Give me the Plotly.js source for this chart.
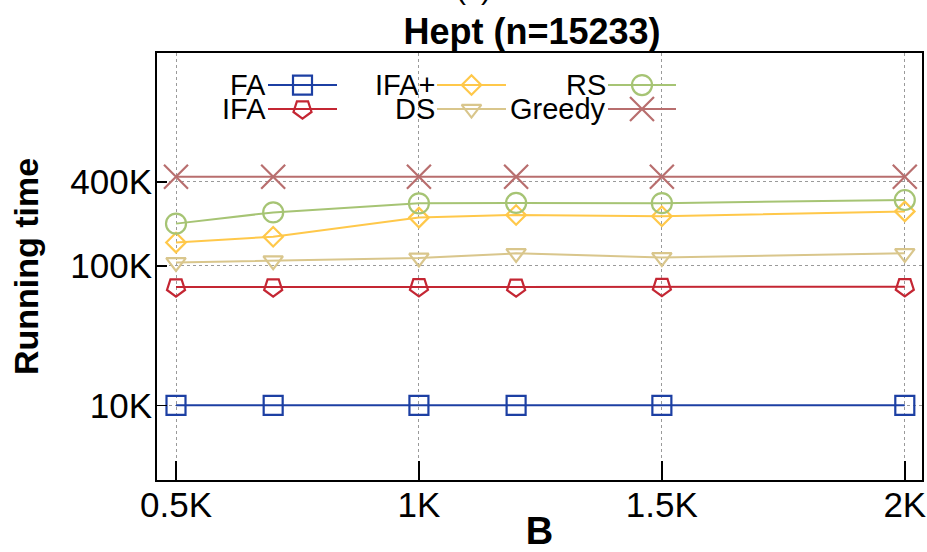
<!DOCTYPE html>
<html>
<head>
<meta charset="utf-8">
<script src="https://cdn.plot.ly/plotly-3.0.1.min.js"></script>
<style>
  html, body { margin: 0; padding: 0; background: #fff; }
  #chart { width: 927px; height: 552px; }
</style>
</head>
<body>
<div id="chart"></div>
<script>
// Budget B (in thousands) and running time of each method
const budgetK = [0.5, 0.7, 1.0, 1.2, 1.5, 2.0];
const tickValsX = [0.5, 1.0, 1.5, 2.0];
const tickTextX = ['0.5K', '1K', '1.5K', '2K'];
const tickValsY = [1e4, 1e5, 4e5];
const tickTextY = ['10K', '100K', '400K'];

const seriesNames = ['FA', 'IFA', 'IFA+', 'DS', 'RS', 'Greedy'];
const faTime      = [10000, 10000, 10000, 10000, 10000, 10000];
const ifaTime     = [70500, 70500, 70700, 70300, 71000, 70800];
const ifaPlusTime = [147000, 162000, 222000, 232000, 227000, 246000];
const dsTime      = [106000, 109000, 114000, 123000, 115000, 123000];
const rsTime      = [201000, 242000, 281000, 283000, 282000, 297000];
const greedyTime  = [436000, 436000, 436000, 436000, 436000, 436000];

const seriesValues = [faTime, ifaTime, ifaPlusTime, dsTime, rsTime, greedyTime];
const seriesColors = ['#1c3fa3', '#c42633', '#ffc84a', '#d9c68c', '#a6c474', '#b86e6e'];
const seriesSymbols = ['square-open', 'pentagon-open', 'diamond-open', 'triangle-down-open', 'circle-open', 'x-thin-open'];
const markerAngles = [0, 180, 0, 0, 0, 0];
const markerSizes = [19, 19, 15, 17, 20, 24];

// legend key placement (overlay axis measured in plot pixels), 3 columns x 2 rows
const keyOrder = [0, 2, 4, 1, 3, 5];
const keyCols = [[268, 337], [437, 506], [608, 676]];
const keyRows = [85, 109];

const FONT = 'Liberation Sans, Arial, Helvetica, sans-serif';

const traces = seriesNames.map((name, i) => ({
  type: 'scatter',
  mode: 'lines+markers',
  name: name,
  x: budgetK,
  y: seriesValues[i],
  showlegend: false,
  line: { color: seriesColors[i], width: 2 },
  marker: {
    symbol: seriesSymbols[i],
    angle: markerAngles[i],
    size: markerSizes[i],
    color: seriesColors[i],
    line: { color: seriesColors[i], width: 2.2 }
  }
}));

const annotations = [];
keyOrder.forEach((si, k) => {
  const col = keyCols[k % 3];
  const row = keyRows[Math.floor(k / 3)];
  const xc = (col[0] + col[1]) / 2;
  traces.push({
    type: 'scatter',
    mode: 'lines+markers',
    xaxis: 'x2',
    yaxis: 'y2',
    x: [col[0], xc, col[1]],
    y: [row, row, row],
    showlegend: false,
    hoverinfo: 'skip',
    line: { color: seriesColors[si], width: 2 },
    marker: {
      symbol: seriesSymbols[si],
      angle: markerAngles[si],
      size: markerSizes[si],
      color: seriesColors[si],
      opacity: [0, 1, 0],
      line: { color: seriesColors[si], width: 2.2 }
    }
  });
  annotations.push({
    xref: 'x2', yref: 'y2',
    x: col[0], y: row,
    xanchor: 'right', yanchor: 'middle',
    text: seriesNames[si],
    showarrow: false,
    font: { family: FONT, size: 29, color: '#000' }
  });
});

// panel label above the title, mostly cut off by the top edge
annotations.push({
  xref: 'paper', yref: 'paper',
  x: (473 - 157) / 765, y: (479.6 - 7) / 426.6,
  xanchor: 'center', yanchor: 'bottom',
  text: '(c)', showarrow: false,
  font: { family: FONT, size: 30, color: '#000' }
});

const layout = {
  width: 927,
  height: 552,
  margin: { l: 157, r: 5, t: 53, b: 72 },
  paper_bgcolor: '#fff',
  plot_bgcolor: '#fff',
  font: { family: FONT, color: '#000' },
  title: {
    text: '<b>Hept (n=15233)</b>',
    font: { family: FONT, size: 36, color: '#000' },
    xref: 'container', x: 532 / 927,
    yref: 'container', y: 1 - 31 / 552,
    xanchor: 'center', yanchor: 'middle'
  },
  xaxis: {
    range: [0.4609, 2.0354],
    tickvals: tickValsX,
    ticktext: tickTextX,
    ticks: 'inside', ticklen: 19, tickwidth: 1.5, tickcolor: '#000',
    ticklabelstandoff: -7,
    ticklabeloverflow: 'allow',
    showline: true, linecolor: '#000', linewidth: 2, mirror: true,
    showgrid: true, gridcolor: '#9a9a9a', griddash: 'dot', gridwidth: 1,
    zeroline: false,
    tickfont: { family: FONT, size: 35, color: '#000' },
    title: { text: '<b>B</b>', font: { family: FONT, size: 38, color: '#000' }, standoff: 0 }
  },
  yaxis: {
    type: 'log',
    range: [3.4645, 6.527],
    tickvals: tickValsY,
    ticktext: tickTextY,
    ticks: 'inside', ticklen: 10, tickwidth: 1.5, tickcolor: '#000',
    ticklabelstandoff: -4,
    showline: true, linecolor: '#000', linewidth: 2, mirror: true,
    showgrid: true, gridcolor: '#9a9a9a', griddash: 'dot', gridwidth: 1,
    zeroline: false,
    tickfont: { family: FONT, size: 35, color: '#000' },
    title: { text: '<b>Running time</b>', font: { family: FONT, size: 34, color: '#000' }, standoff: 21 }
  },
  xaxis2: { overlaying: 'x', range: [157, 922], visible: false, fixedrange: true },
  yaxis2: { overlaying: 'y', range: [479.6, 53], visible: false, fixedrange: true },
  annotations: annotations,
  showlegend: false
};

Plotly.newPlot('chart', traces, layout, { displayModeBar: false, staticPlot: true });
</script>
</body>
</html>
